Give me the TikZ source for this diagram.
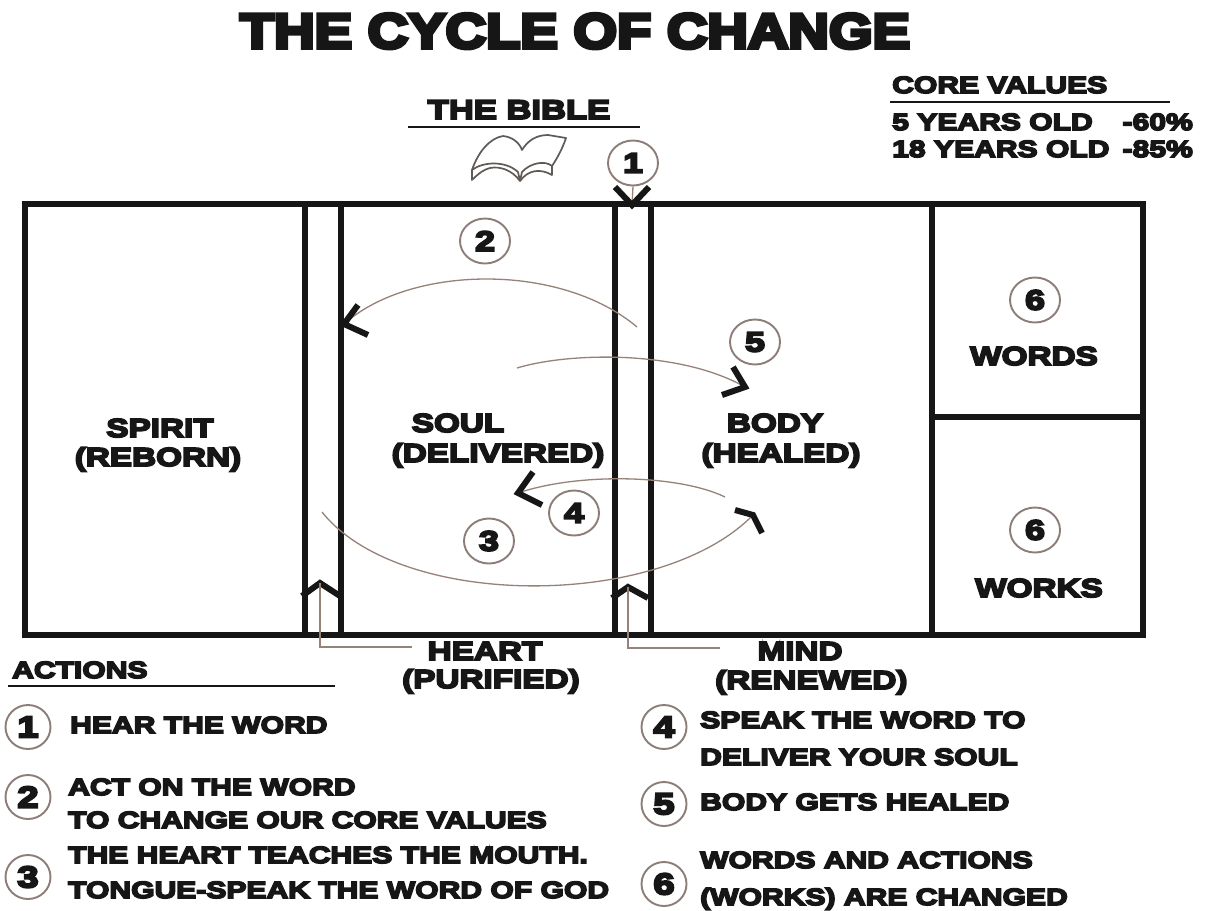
\documentclass[tikz,border=0pt]{standalone}
\usepackage{fontspec}
\newfontfamily\hv{Liberation Sans Bold}[FakeStretch=1.28,FakeBold=7]
\newfontfamily\hvt{Liberation Sans Bold}[FakeStretch=1.145,FakeBold=8]
\usetikzlibrary{shapes.geometric}
\definecolor{thincol}{RGB}{150,130,120}
\definecolor{circcol}{RGB}{140,125,120}
\definecolor{ink}{RGB}{22,22,22}
\definecolor{bookcol}{RGB}{95,90,85}
\tikzset{
  frame/.style={draw=ink, line width=6pt, line join=miter},
  uline/.style={draw=ink, line width=2.2pt},
  thinarr/.style={draw=thincol, line width=1.3pt},
  chev/.style={draw=ink, line width=6pt, line join=miter},
  num/.style={ellipse, draw=circcol, line width=1.9pt, minimum width=50pt, minimum height=45pt, inner sep=0pt, text=ink, font=\hv\fontsize{28}{30}\selectfont},
  lnum/.style={ellipse, draw=circcol, line width=1.9pt, minimum width=45pt, minimum height=44pt, inner sep=0pt, text=ink, font=\hv\fontsize{30}{32}\selectfont},
  lbl/.style={inner sep=0pt, text=ink, font=\hv\fontsize{26}{30}\selectfont},
  leg/.style={inner sep=0pt, anchor=base west, text=ink, font=\hv\fontsize{23.5}{28}\selectfont},
  ttl/.style={inner sep=0pt, anchor=base, text=ink, font=\hvt\fontsize{49}{52}\selectfont}
}
\begin{document}
\begin{tikzpicture}[x=1pt,y=-1pt]
\useasboundingbox (0,0) rectangle (1206,910);
\fill[white] (0,0) rectangle (1206,910);

% title
\node[ttl] (title) at (575,48) {THE CYCLE OF CHANGE};

% the bible
\node[lbl, anchor=base, font=\hv\fontsize{27}{30}\selectfont] (bible) at (519,119) {THE BIBLE};
\draw[uline] (408,127) -- (640,127);
\begin{scope}[draw=bookcol, line width=1.7pt, line join=round]
\filldraw[fill=white] (472,170) .. controls (478,152) and (490,138) .. (503,136)
  .. controls (512,137) and (519,142) .. (522,150)
  .. controls (528,140) and (537,135) .. (548,135) -- (566,138)
  .. controls (562,150) and (556,160) .. (552,166) -- (552,175)
  .. controls (540,168) and (528,170) .. (520,181)
  .. controls (512,170) and (500,166) .. (490,168)
  .. controls (482,170) and (476,176) .. (472,180) -- cycle;
\draw (472,170) .. controls (482,162) and (505,160) .. (518,172) -- (520,181);
\draw (520,181) -- (522,172) .. controls (530,163) and (545,160) .. (552,166);
\end{scope}

% core values
\node[leg] (cv) at (892,93) {CORE VALUES};
\draw[uline] (890,102) -- (1170,102);
\node[leg] (y5) at (892,130) {5 YEARS OLD};
\node[leg, anchor=base east] (p60) at (1193,130) {-60\%};
\node[leg] (y18) at (892,157) {18 YEARS OLD};
\node[leg, anchor=base east] (p85) at (1193,157) {-85\%};

% frame
\draw[frame] (25,204) rectangle (1143,635);
\foreach \x in {305,341,615,651,932} \draw[frame] (\x,204) -- (\x,635);
\draw[frame] (932,417) -- (1143,417);

% labels
\node[lbl, anchor=base] (spirit) at (160,437) {SPIRIT};
\node[lbl, anchor=base] (reborn) at (158,466) {(REBORN)};
\node[lbl, anchor=base] (soul) at (458,432) {SOUL};
\node[lbl, anchor=base] (deliv) at (498,462) {(DELIVERED)};
\node[lbl, anchor=base] (body) at (775,432) {BODY};
\node[lbl, anchor=base] (healed) at (781,462) {(HEALED)};
\node[lbl, anchor=base] (words) at (1034,365) {WORDS};
\node[lbl, anchor=base] (works) at (1039,597) {WORKS};
\node[lbl, anchor=base] (heart) at (485,660) {HEART};
\node[lbl, anchor=base west] (purif) at (402,688) {(PURIFIED)};
\node[lbl, anchor=base] (mind) at (800,660) {MIND};
\node[lbl, anchor=base west] (renew) at (715,689) {(RENEWED)};

% numbered circles in the diagram
\node[num] (c1) at (633,163) {1};
\node[num] (c2) at (485,241) {2};
\node[num] (c5) at (755,342) {5};
\node[num] (c4) at (574,513) {4};
\node[num] (c3) at (489,541) {3};
\node[num] (c6a) at (1035,300) {6};
\node[num] (c6b) at (1035,530) {6};

% arrow 1
\coordinate (a1e) at (632,205);
\draw[thinarr] (c1.south) -- (a1e);
\draw[chev] (615,187) -- (a1e) -- (649,187);

% arrow 2
\coordinate (a2s) at (637,327);
\coordinate (a2e) at (344,324);
\draw[thinarr] (a2s) .. controls (560,262) and (410,265) .. (a2e);
\draw[chev] (358,305) -- (a2e) -- (368,335);

% arrow 5
\coordinate (a5s) at (517,368);
\coordinate (a5e) at (745,387);
\draw[thinarr] (a5s) .. controls (570,352) and (680,350) .. (a5e);
\draw[chev] (733,367) -- (a5e) -- (722,395);

% arrow 4
\coordinate (a4s) at (725,497);
\coordinate (a4e) at (518,493);
\draw[thinarr] (a4s) .. controls (680,475) and (580,472) .. (a4e);
\draw[chev] (533,472) -- (a4e) -- (542,505);

% arrow 3
\coordinate (a3s) at (322,512);
\coordinate (a3e) at (753,515);
\draw[thinarr] (a3s) .. controls (400,610) and (660,610) .. (a3e);
\draw[chev] (735,510) -- (a3e) -- (762,533);

% heart and mind pointers
\coordinate (hA) at (320,583);
\coordinate (hL) at (412,647);
\draw[chev] (302,596) -- (hA) -- (340,596);
\draw[thinarr] (hA) |- (hL);
\coordinate (mA) at (628,587);
\coordinate (mL) at (720,648);
\draw[chev] (612,598) -- (mA) -- (648,598);
\draw[thinarr] (mA) |- (mL);

% legend
\node[leg] (act) at (12,678) {ACTIONS};
\draw[uline] (8,686) -- (335,686);
\node[lnum] (l1) at (28,727) {1};
\node[leg] (t1) at (70,733) {HEAR THE WORD};
\node[lnum] (l2) at (28,797) {2};
\node[leg] (t2a) at (68,795) {ACT ON THE WORD};
\node[leg] (t2b) at (68,828) {TO CHANGE OUR CORE VALUES};
\node[lnum] (l3) at (28,877) {3};
\node[leg] (t3a) at (68,863) {THE HEART TEACHES THE MOUTH.};
\node[leg] (t3b) at (68,898) {TONGUE-SPEAK THE WORD OF GOD};
\node[lnum] (l4) at (664,727) {4};
\node[leg] (t4a) at (700,728) {SPEAK THE WORD TO};
\node[leg] (t4b) at (700,765) {DELIVER YOUR SOUL};
\node[lnum] (l5) at (664,804) {5};
\node[leg] (t5) at (700,810) {BODY GETS HEALED};
\node[lnum] (l6) at (664,884) {6};
\node[leg] (t6a) at (700,868) {WORDS AND ACTIONS};
\node[leg] (t6b) at (700,905) {(WORKS) ARE CHANGED};
\end{tikzpicture}
\end{document}
